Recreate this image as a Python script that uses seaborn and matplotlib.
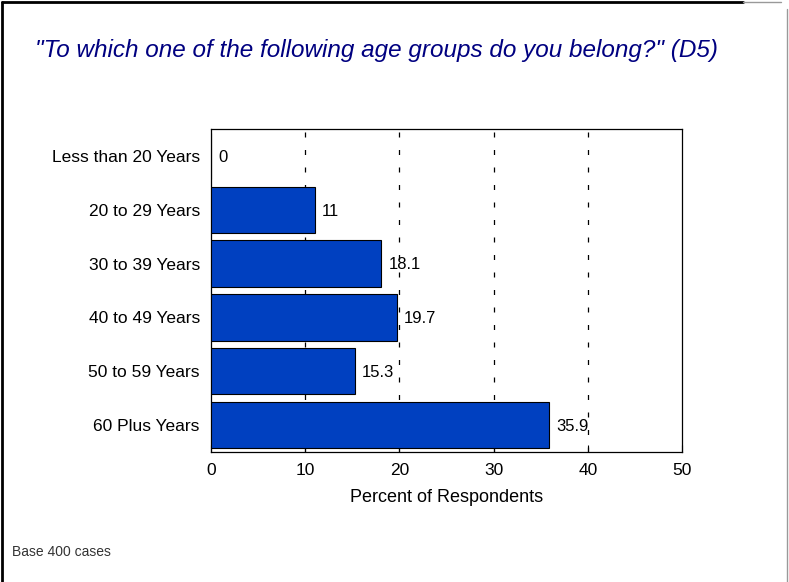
import matplotlib
matplotlib.use("Agg")
import matplotlib.pyplot as plt
import seaborn as sns
import pandas as pd
from matplotlib.lines import Line2D

# chart data
age_groups = ["Less than 20 Years", "20 to 29 Years", "30 to 39 Years",
              "40 to 49 Years", "50 to 59 Years", "60 Plus Years"]
percents = [0, 11, 18.1, 19.7, 15.3, 35.9]
value_labels = ["0", "11", "18.1", "19.7", "15.3", "35.9"]
x_ticks = [0, 10, 20, 30, 40, 50]

df = pd.DataFrame({"group": age_groups, "pct": percents})

sns.set_style("white")
plt.rcParams["font.family"] = ["Liberation Sans", "DejaVu Sans"]
plt.rcParams["text.color"] = "black"
plt.rcParams["xtick.color"] = "black"
plt.rcParams["ytick.color"] = "black"
plt.rcParams["axes.labelcolor"] = "black"

fig = plt.figure(figsize=(7.89, 5.82), dpi=100, facecolor="white")
ax = fig.add_axes([0.2674, 0.2234, 0.597, 0.555])

sns.barplot(data=df, x="pct", y="group", orient="h", color="#0040C0",
            saturation=1, width=0.86, edgecolor="black", linewidth=0.8,
            ax=ax, zorder=3)

for i, (v, lab) in enumerate(zip(percents, value_labels)):
    ax.annotate(lab, (v, i), xytext=(5, -1), textcoords="offset points",
                va="center", ha="left", fontsize=12, zorder=4)

ax.set_xlim(0, 50)
ax.set_xticks(x_ticks)
ax.set_xticklabels([str(t) for t in x_ticks], fontsize=12.5)
ax.tick_params(axis="x", direction="in", length=5, width=0.8, pad=8, bottom=True)
ax.tick_params(axis="y", length=0, labelsize=12.5, pad=8)
ax.set_ylabel("")
ax.set_xlabel("Percent of Respondents", fontsize=13, labelpad=8)
for t in x_ticks[1:-1]:
    ax.axvline(t, color="black", linestyle=(0, (4, 10)), linewidth=0.9, zorder=1)
for s in ax.spines.values():
    s.set_color("black")
    s.set_linewidth(0.9)

fig.text(35 / 789, 1 - 50 / 582, '"To which one of the following age groups do you belong?" (D5)',
         fontsize=17.5, style="italic", color="#000080", va="center")
fig.text(12 / 789, 1 - 552 / 582, "Base 400 cases", fontsize=10, color="#333333", va="center")

# frame border: black on left/top, grey on the right
fig.add_artist(Line2D([0.003, 0.003], [0, 0.997], transform=fig.transFigure, color="black", linewidth=2))
fig.add_artist(Line2D([0.003, 0.942], [0.997, 0.997], transform=fig.transFigure, color="black", linewidth=2))
fig.add_artist(Line2D([0.942, 0.99], [0.997, 0.997], transform=fig.transFigure, color="#999999", linewidth=1))
fig.add_artist(Line2D([0.997, 0.997], [0, 0.985], transform=fig.transFigure, color="#999999", linewidth=1))

fig.savefig("out.png", dpi=100, facecolor="white")
